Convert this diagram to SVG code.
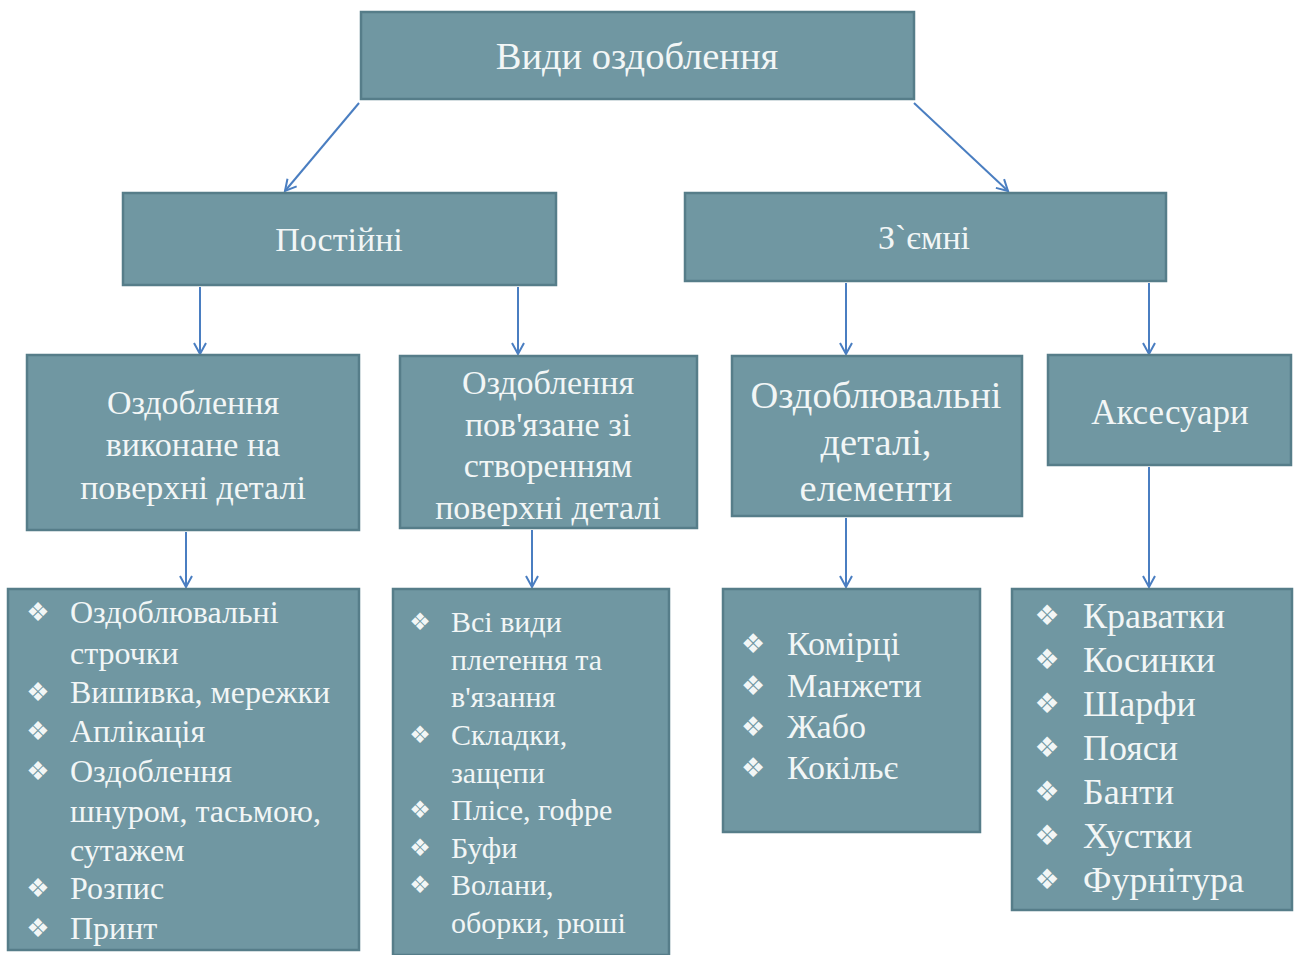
<svg xmlns="http://www.w3.org/2000/svg" width="1297" height="955" viewBox="0 0 1297 955">
<style>
.box{fill:#7097A2;stroke:#567D89;stroke-width:2.5}
.t{font-family:"Liberation Serif","Times New Roman",serif;fill:#F2F6F6}
.c{text-anchor:middle}
.b{font-family:"DejaVu Sans",sans-serif;fill:#F2F6F6;text-anchor:middle}
.conn line{stroke:#4A7EC1;stroke-width:2;fill:none}
</style>
<defs>
<marker id="arr" markerWidth="14" markerHeight="14" refX="12" refY="7" orient="auto" markerUnits="userSpaceOnUse">
<path d="M1,1 L12,7 L1,13" fill="none" stroke="#4A7EC1" stroke-width="2"/>
</marker>
</defs>
<rect width="1297" height="955" fill="#FFFFFF"/>

<g class="conn">
<line x1="359" y1="103" x2="285" y2="191" marker-end="url(#arr)"/>
<line x1="914" y1="103" x2="1008" y2="191" marker-end="url(#arr)"/>
<line x1="200" y1="287" x2="200" y2="354" marker-end="url(#arr)"/>
<line x1="518" y1="287" x2="518" y2="354" marker-end="url(#arr)"/>
<line x1="846" y1="283" x2="846" y2="354" marker-end="url(#arr)"/>
<line x1="1149" y1="283" x2="1149" y2="354" marker-end="url(#arr)"/>
<line x1="186" y1="532" x2="186" y2="587" marker-end="url(#arr)"/>
<line x1="532" y1="530" x2="532" y2="587" marker-end="url(#arr)"/>
<line x1="846" y1="518" x2="846" y2="587" marker-end="url(#arr)"/>
<line x1="1149" y1="467" x2="1149" y2="587" marker-end="url(#arr)"/>
</g>

<g id="root">
<rect class="box" x="361" y="12" width="553" height="87"/>
<text class="t c" x="637" y="69" font-size="38.5">Види оздоблення</text>
</g>

<g id="postiini">
<rect class="box" x="123" y="193" width="433" height="92"/>
<text class="t c" x="339" y="251" font-size="34">Постійні</text>
</g>

<g id="znimni">
<rect class="box" x="685" y="193" width="481" height="88"/>
<text class="t c" x="924" y="249" font-size="34">З`ємні</text>
</g>

<g id="surface">
<rect class="box" x="27" y="355" width="332" height="175"/>
<text class="t c" font-size="34"><tspan x="193" y="414">Оздоблення</tspan><tspan x="193" y="456">виконане на</tspan><tspan x="193" y="499">поверхні деталі</tspan></text>
</g>

<g id="creation">
<rect class="box" x="400" y="356" width="297" height="172"/>
<text class="t c" font-size="34"><tspan x="548" y="394">Оздоблення</tspan><tspan x="548" y="436">пов'язане зі</tspan><tspan x="548" y="477">створенням</tspan><tspan x="548" y="519">поверхні деталі</tspan></text>
</g>

<g id="details">
<rect class="box" x="732" y="356" width="290" height="160"/>
<text class="t c" font-size="38.5"><tspan x="876" y="408">Оздоблювальні</tspan><tspan x="876" y="455">деталі,</tspan><tspan x="876" y="501">елементи</tspan></text>
</g>

<g id="accessories">
<rect class="box" x="1048" y="355" width="243" height="110"/>
<text class="t c" x="1170" y="424" font-size="35">Аксесуари</text>
</g>

<g id="list1">
<rect class="box" x="8" y="589" width="351" height="361"/>
<g class="b" font-size="26">
<text x="38" y="621">❖</text><text x="38" y="701">❖</text><text x="38" y="740">❖</text><text x="38" y="780">❖</text><text x="38" y="897">❖</text><text x="38" y="937">❖</text>
</g>
<text class="t" font-size="32">
<tspan x="70" y="623">Оздоблювальні</tspan>
<tspan x="70" y="664">строчки</tspan>
<tspan x="70" y="703">Вишивка, мережки</tspan>
<tspan x="70" y="742">Аплікація</tspan>
<tspan x="70" y="782">Оздоблення</tspan>
<tspan x="70" y="822">шнуром, тасьмою,</tspan>
<tspan x="70" y="861">сутажем</tspan>
<tspan x="70" y="899">Розпис</tspan>
<tspan x="70" y="939">Принт</tspan>
</text>
</g>

<g id="list2">
<rect class="box" x="393" y="589" width="276" height="366"/>
<g class="b" font-size="24">
<text x="420" y="630">❖</text><text x="420" y="743">❖</text><text x="420" y="818">❖</text><text x="420" y="856">❖</text><text x="420" y="893">❖</text>
</g>
<text class="t" font-size="30">
<tspan x="451" y="632">Всі види</tspan>
<tspan x="451" y="670">плетення та</tspan>
<tspan x="451" y="707">в'язання</tspan>
<tspan x="451" y="745">Складки,</tspan>
<tspan x="451" y="783">защепи</tspan>
<tspan x="451" y="820">Плісе, гофре</tspan>
<tspan x="451" y="858">Буфи</tspan>
<tspan x="451" y="895">Волани,</tspan>
<tspan x="451" y="933">оборки, рюші</tspan>
</text>
</g>

<g id="list3">
<rect class="box" x="723" y="589" width="257" height="243"/>
<g class="b" font-size="27">
<text x="753" y="653">❖</text><text x="753" y="695">❖</text><text x="753" y="736">❖</text><text x="753" y="777">❖</text>
</g>
<text class="t" font-size="34">
<tspan x="787" y="655">Комірці</tspan>
<tspan x="787" y="697">Манжети</tspan>
<tspan x="787" y="738">Жабо</tspan>
<tspan x="787" y="779">Кокільє</tspan>
</text>
</g>

<g id="list4">
<rect class="box" x="1012" y="589" width="280" height="321"/>
<g class="b" font-size="28">
<text x="1047" y="625">❖</text><text x="1047" y="669">❖</text><text x="1047" y="713">❖</text><text x="1047" y="757">❖</text><text x="1047" y="801">❖</text><text x="1047" y="845">❖</text><text x="1047" y="889">❖</text>
</g>
<text class="t" font-size="36">
<tspan x="1083" y="628">Краватки</tspan>
<tspan x="1083" y="672">Косинки</tspan>
<tspan x="1083" y="716">Шарфи</tspan>
<tspan x="1083" y="760">Пояси</tspan>
<tspan x="1083" y="804">Банти</tspan>
<tspan x="1083" y="848">Хустки</tspan>
<tspan x="1083" y="892">Фурнітура</tspan>
</text>
</g>
</svg>
